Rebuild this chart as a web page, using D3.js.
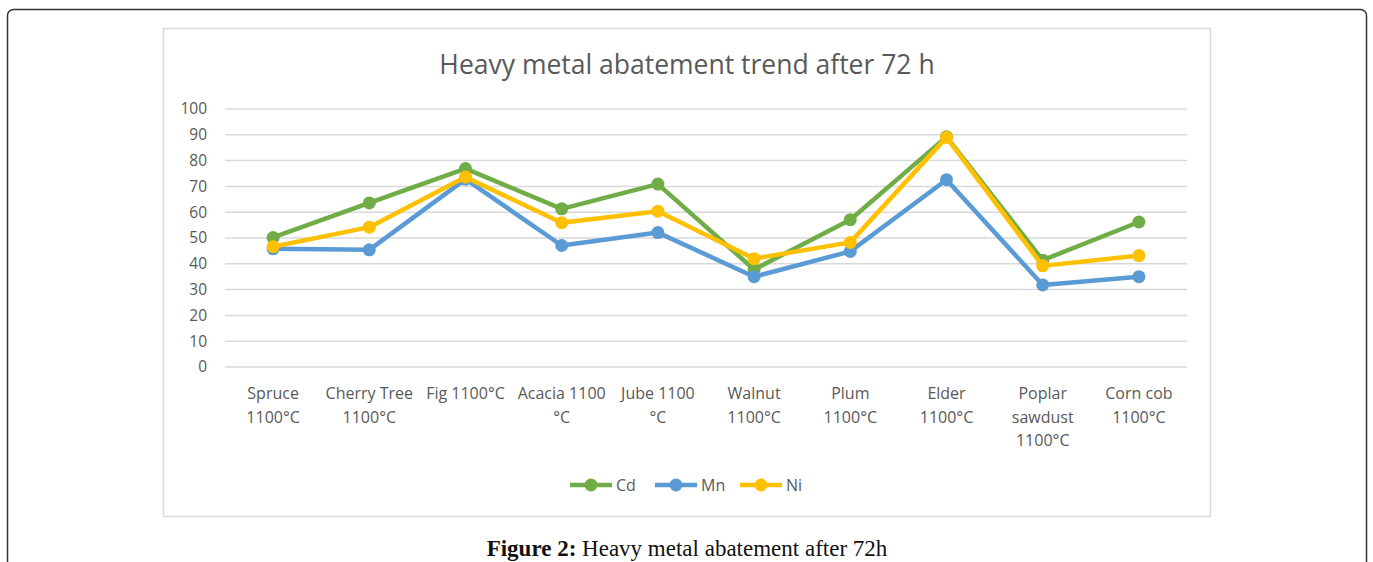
<!DOCTYPE html>
<html>
<head>
<meta charset="utf-8">
<script src="https://cdn.jsdelivr.net/npm/d3@7"></script>
<style>
  body { margin: 0; background: #fff; }
  svg text { font-family: "Open Sans", "Noto Sans", sans-serif; }
</style>
</head>
<body>
<div id="vis"></div>
<script>
// Data ----------------------------------------------------------------------

var categories = ["Spruce", "Cherry Tree", "Fig", "Acacia", "Jube", "Walnut",
                  "Plum", "Elder", "Poplar sawdust", "Corn cob"];

var tickLabels = [
  ["Spruce", "1100°C"],
  ["Cherry Tree", "1100°C"],
  ["Fig 1100°C"],
  ["Acacia 1100", "°C"],
  ["Jube 1100", "°C"],
  ["Walnut", "1100°C"],
  ["Plum", "1100°C"],
  ["Elder", "1100°C"],
  ["Poplar", "sawdust", "1100°C"],
  ["Corn cob", "1100°C"]
];

var cd = [50.2, 63.6, 76.9, 61.3, 70.9, 37.8, 57.1, 89.2, 41.4, 56.2];
var mn = [45.8, 45.4, 72.8, 47.1, 52.1, 35.0, 44.8, 72.6, 31.8, 35.0];
var ni = [46.6, 54.2, 73.6, 55.9, 60.4, 42.0, 48.3, 89.0, 39.2, 43.2];

var seriesNames = ["Cd", "Mn", "Ni"];
var seriesColors = ["#70AD47", "#5B9BD5", "#FFC000"];
var yTicks = [0, 10, 20, 30, 40, 50, 60, 70, 80, 90, 100];

var series = [cd, mn, ni].map(function(v, i) {
  return { name: seriesNames[i], color: seriesColors[i], values: v };
});

// Setup ---------------------------------------------------------------------

var W = 1373, H = 562;
var plotLeft = 225, plotRight = 1187, plotTop = 109, plotBottom = 367;

var svg = d3.select("#vis").append("svg")
  .attr("width", W)
  .attr("height", H);

// outer page frame
svg.append("rect")
  .attr("x", 7.5).attr("y", 9.5)
  .attr("width", 1359).attr("height", 600)
  .attr("rx", 6)
  .attr("fill", "none")
  .attr("stroke", "#333")
  .attr("stroke-width", 1.5);

// chart box
svg.append("rect")
  .attr("x", 163.5).attr("y", 28.5)
  .attr("width", 1047).attr("height", 488)
  .attr("fill", "#fff")
  .attr("stroke", "#d9d9d9")
  .attr("stroke-width", 1.5);

// Scales --------------------------------------------------------------------

var x = d3.scaleBand()
  .domain(categories)
  .range([plotLeft, plotRight])
  .padding(0);

var y = d3.scaleLinear()
  .domain([0, 100])
  .range([plotBottom, plotTop]);

// Grid + axes ---------------------------------------------------------------

svg.append("g")
  .selectAll("line")
  .data(yTicks)
  .enter().append("line")
  .attr("x1", plotLeft).attr("x2", plotRight)
  .attr("y1", function(d) { return y(d); })
  .attr("y2", function(d) { return y(d); })
  .attr("stroke", "#d9d9d9")
  .attr("stroke-width", 1.5);

var yAxis = svg.append("g")
  .attr("transform", "translate(" + (plotLeft - 18) + ",0)")
  .call(d3.axisLeft(y).tickValues(yTicks).tickSize(0).tickPadding(0));
yAxis.select(".domain").remove();
yAxis.selectAll("text")
  .attr("fill", "#595959")
  .style("font-size", "15.5px");

var xAxis = svg.append("g")
  .attr("transform", "translate(0," + plotBottom + ")")
  .call(d3.axisBottom(x).tickSize(0).tickFormat(""));
xAxis.select(".domain").remove();

xAxis.selectAll(".tick").each(function(d, i) {
  var t = d3.select(this).append("text")
    .attr("fill", "#595959")
    .attr("text-anchor", "middle")
    .style("font-size", "16px");
  tickLabels[i].forEach(function(line, j) {
    t.append("tspan")
      .attr("x", 0)
      .attr("y", 32 + j * 23.5)
      .text(line);
  });
});

// Lines ---------------------------------------------------------------------

var line = d3.line()
  .x(function(d, i) { return x(categories[i]) + x.bandwidth() / 2; })
  .y(function(d) { return y(d); });

var sg = svg.append("g").selectAll("g")
  .data(series)
  .enter().append("g");

sg.append("path")
  .attr("d", function(d) { return line(d.values); })
  .attr("fill", "none")
  .attr("stroke", function(d) { return d.color; })
  .attr("stroke-width", 4.5)
  .attr("stroke-linejoin", "round");

sg.selectAll("circle")
  .data(function(d) { return d.values.map(function(v) { return { v: v, c: d.color }; }); })
  .enter().append("circle")
  .attr("cx", function(d, i) { return x(categories[i]) + x.bandwidth() / 2; })
  .attr("cy", function(d) { return y(d.v); })
  .attr("r", 6.5)
  .attr("fill", function(d) { return d.c; });

// Title ---------------------------------------------------------------------

svg.append("text")
  .attr("x", 687).attr("y", 74)
  .attr("text-anchor", "middle")
  .attr("fill", "#595959")
  .style("font-size", "26.5px")
  .text("Heavy metal abatement trend after 72 h");

// Legend --------------------------------------------------------------------

var legendX = [570, 655, 740];
var lg = svg.append("g").selectAll("g")
  .data(series)
  .enter().append("g")
  .attr("transform", function(d, i) { return "translate(" + legendX[i] + ",485)"; });

lg.append("line")
  .attr("x1", 0).attr("x2", 42)
  .attr("stroke", function(d) { return d.color; })
  .attr("stroke-width", 4.5);
lg.append("circle")
  .attr("cx", 21).attr("r", 6.5)
  .attr("fill", function(d) { return d.color; });
lg.append("text")
  .attr("x", 46).attr("y", 6)
  .attr("fill", "#595959")
  .style("font-size", "16px")
  .text(function(d) { return d.name; });

// Caption -------------------------------------------------------------------

var cap = svg.append("text")
  .attr("x", 687).attr("y", 556)
  .attr("text-anchor", "middle")
  .style("font-family", "'Liberation Serif', serif")
  .style("font-size", "23px")
  .attr("fill", "#111");
cap.append("tspan").style("font-weight", "bold").style("font-family", "'Liberation Serif', serif").text("Figure 2:");
cap.append("tspan").style("font-family", "'Liberation Serif', serif").text(" Heavy metal abatement after 72h");
</script>
</body>
</html>
